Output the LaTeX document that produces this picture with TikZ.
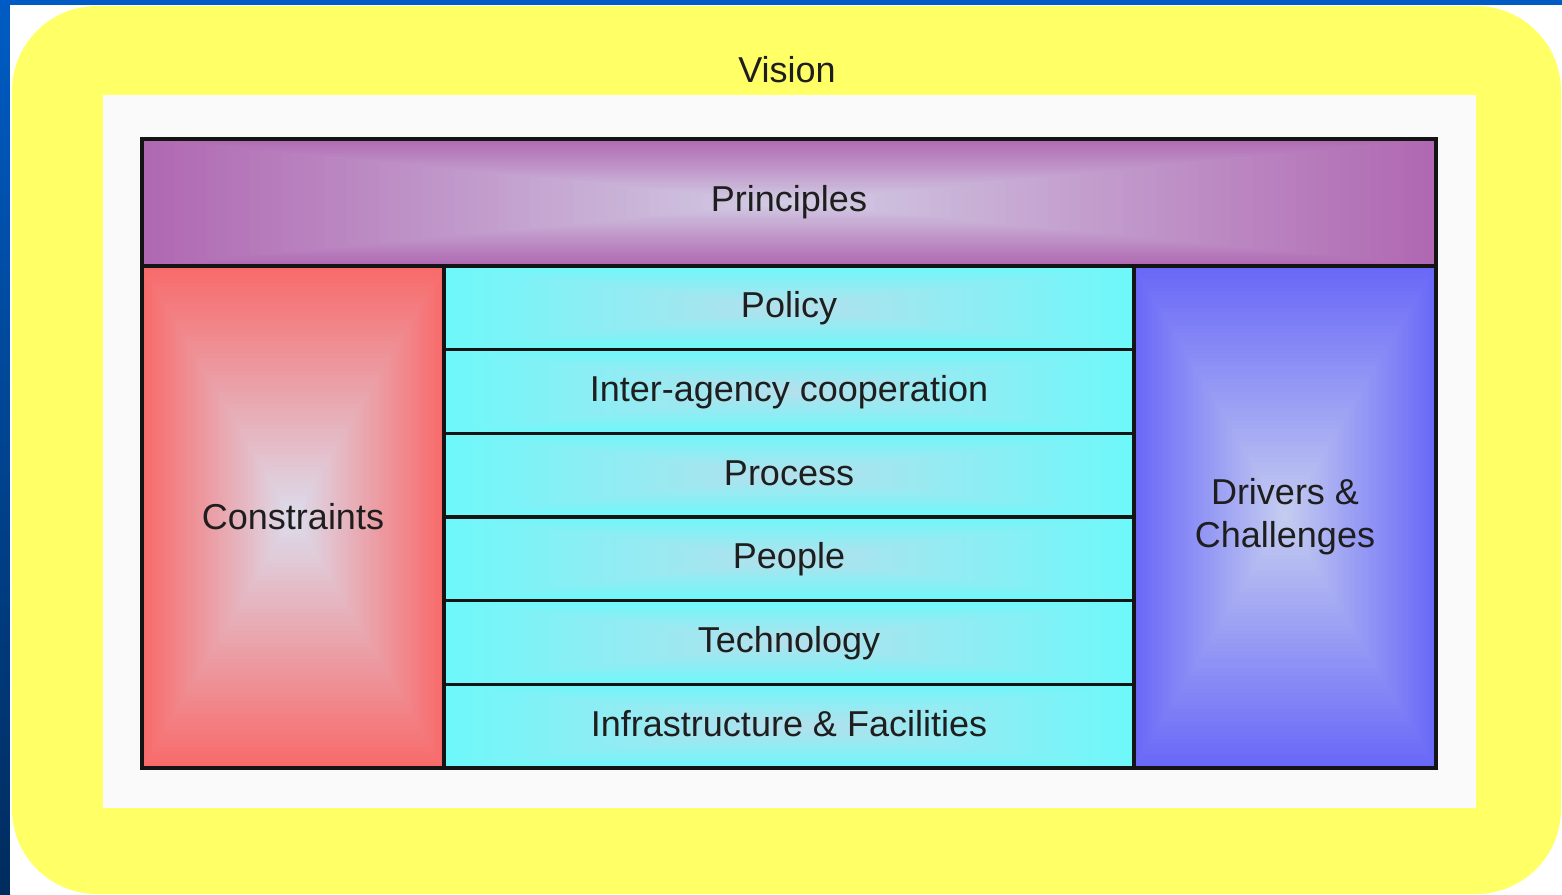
\documentclass[tikz,border=0pt]{standalone}
\usepackage{fontspec}
\setmainfont{Liberation Sans}
\usetikzlibrary{calc}

\definecolor{deskblue}{HTML}{005CC4}
\definecolor{deskdark}{HTML}{002C5E}
\definecolor{visionyellow}{HTML}{FFFF66}
\definecolor{panelwhite}{HTML}{FAFAFA}
\definecolor{textgray}{HTML}{1E1E1E}
\definecolor{edgeline}{HTML}{141414}
\definecolor{purpleedge}{HTML}{B068B2}
\definecolor{purplecenter}{HTML}{D2CCE4}
\definecolor{rededge}{HTML}{F86A6A}
\definecolor{redcenter}{HTML}{DCDCEC}
\definecolor{cyanedge}{HTML}{6EF8FA}
\definecolor{cyancenter}{HTML}{B4E0EC}
\definecolor{blueedge}{HTML}{6868F8}
\definecolor{bluecenter}{HTML}{C4CCF0}

\tikzset{
  % rectangular path gradient: edge colour #1 fading to centre colour #2
  pgrad/.style 2 args={path picture={
    \foreach \gi in {0,...,59}{
      \pgfmathsetmacro{\gscale}{1-\gi/60}
      \pgfmathsetmacro{\gpct}{100*\gi/59}
      \fill[#2!\gpct!#1]
        ($(path picture bounding box.center)!\gscale!(path picture bounding box.south west)$)
        rectangle
        ($(path picture bounding box.center)!\gscale!(path picture bounding box.north east)$);
    }}},
  block/.style={draw=edgeline, line width=3.2pt, inner sep=0pt, outer sep=0pt,
    anchor=north west, font=\fontsize{36}{43}\selectfont, text=textgray, align=center},
  rowbox/.style={block, pgrad={cyanedge}{cyancenter},
    minimum width=690pt, minimum height=83.67pt,
    text height=25pt, text depth=5pt},
  label/.style={font=\fontsize{36}{43}\selectfont, text=textgray, inner sep=0pt},
}

\begin{document}
\begin{tikzpicture}[x=1pt, y=-1pt]
  \useasboundingbox (0,0) rectangle (1562,894);

  % desktop background and window frame
  \fill[deskblue] (0,0) rectangle (1562,894);
  \shade[top color=deskblue, bottom color=deskdark] (0,0) rectangle (10,894);
  \fill[white] (10,5) rectangle (1562,894);

  % vision frame
  \fill[visionyellow, rounded corners=85pt] (12,6) rectangle (1561,894);
  \node[label] (vision) at (787,70) {Vision};
  \fill[panelwhite] (103,95) rectangle (1476,808);

  % principles band
  \node[block, pgrad={purpleedge}{purplecenter},
        minimum width=1294pt, minimum height=127pt] (principles) at (142,139) {Principles};

  % side columns
  \node[block, pgrad={rededge}{redcenter},
        minimum width=302pt, minimum height=502pt] (constraints) at (142,266) {Constraints};
  \node[block, pgrad={blueedge}{bluecenter},
        minimum width=302pt, minimum height=502pt] (drivers) at (1134,266) {Drivers \&\\Challenges};

  % central layers
  \node[rowbox] (policy)      at (444,266)    {Policy};
  \node[rowbox] (interagency) at (444,349.67) {Inter-agency cooperation};
  \node[rowbox] (process)     at (444,433.33) {Process};
  \node[rowbox] (people)      at (444,517)    {People};
  \node[rowbox] (technology)  at (444,600.67) {Technology};
  \node[rowbox] (infra)       at (444,684.33) {Infrastructure \& Facilities};
\end{tikzpicture}
\end{document}
